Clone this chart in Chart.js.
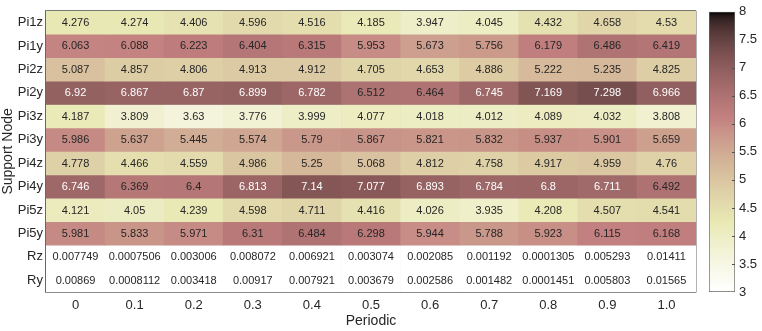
<!DOCTYPE html>
<html lang="en">
<head>
  <meta charset="UTF-8">
  <title>Support Node vs Periodic</title>
  <style>
    body {
      margin: 0;
      background-color: #fff;
    }
    .wrap {
      position: relative;
      width: 762px;
      height: 331px;
    }
    #heatChart {
      position: absolute;
      left: 0;
      top: 0;
    }
    #barChart {
      position: absolute;
      left: 700px;
      top: 0;
    }
  </style>
  <script src="https://cdn.jsdelivr.net/npm/chart.js"></script>
</head>
<body>
<div class="wrap">
  <canvas id="heatChart" width="700" height="331"></canvas>
  <canvas id="barChart" width="62" height="331"></canvas>
</div>

<script>
  // Columns (periodic factor) and rows (support node)
  const periods = ['0', '0.1', '0.2', '0.3', '0.4', '0.5', '0.6', '0.7', '0.8', '0.9', '1.0'];
  const nodes = ['Pi1z', 'Pi1y', 'Pi2z', 'Pi2y', 'Pi3z', 'Pi3y', 'Pi4z', 'Pi4y', 'Pi5z', 'Pi5y', 'Rz', 'Ry'];

  const pi1z = [4.276, 4.274, 4.406, 4.596, 4.516, 4.185, 3.947, 4.045, 4.432, 4.658, 4.53];
  const pi1y = [6.063, 6.088, 6.223, 6.404, 6.315, 5.953, 5.673, 5.756, 6.179, 6.486, 6.419];
  const pi2z = [5.087, 4.857, 4.806, 4.913, 4.912, 4.705, 4.653, 4.886, 5.222, 5.235, 4.825];
  const pi2y = [6.92, 6.867, 6.87, 6.899, 6.782, 6.512, 6.464, 6.745, 7.169, 7.298, 6.966];
  const pi3z = [4.187, 3.809, 3.63, 3.776, 3.999, 4.077, 4.018, 4.012, 4.089, 4.032, 3.808];
  const pi3y = [5.986, 5.637, 5.445, 5.574, 5.79, 5.867, 5.821, 5.832, 5.937, 5.901, 5.659];
  const pi4z = [4.778, 4.466, 4.559, 4.986, 5.25, 5.068, 4.812, 4.758, 4.917, 4.959, 4.76];
  const pi4y = [6.746, 6.369, 6.4, 6.813, 7.14, 7.077, 6.893, 6.784, 6.8, 6.711, 6.492];
  const pi5z = [4.121, 4.05, 4.239, 4.598, 4.711, 4.416, 4.026, 3.935, 4.208, 4.507, 4.541];
  const pi5y = [5.981, 5.833, 5.971, 6.31, 6.484, 6.298, 5.944, 5.788, 5.923, 6.115, 6.168];
  const rz = [0.007749, 0.0007506, 0.003006, 0.008072, 0.006921, 0.003074, 0.002085, 0.001192, 0.0001305, 0.005293, 0.01411];
  const ry = [0.00869, 0.0008112, 0.003418, 0.00917, 0.007921, 0.003679, 0.002586, 0.001482, 0.0001451, 0.005803, 0.01565];

  const rowValues = [pi1z, pi1y, pi2z, pi2y, pi3z, pi3y, pi4z, pi4y, pi5z, pi5y, rz, ry];

  // Colour limits and colour bar ticks
  const cMin = 3;
  const cMax = 8;
  const cStep = 0.5;

  const gridColor = '#676767';
  const textColor = '#262626';
  const fontFamily = "'Liberation Sans', Arial, Helvetica, sans-serif";

  Chart.defaults.font.family = fontFamily;
  Chart.defaults.color = textColor;

  const clamp01 = x => Math.max(0, Math.min(1, x));

  // Reversed "pink" colormap: light at cMin, dark at cMax
  function pinkRGB(t) {
    const hot = [clamp01(t * 8 / 3), clamp01((t - 3 / 8) * 8 / 3), clamp01((t - 3 / 4) * 4)];
    return hot.map(h => Math.round(255 * Math.sqrt((2 * t + h) / 3)));
  }

  function valueRGB(v) {
    return pinkRGB(1 - clamp01((v - cMin) / (cMax - cMin)));
  }

  function rgbString(c) {
    return 'rgb(' + c[0] + ',' + c[1] + ',' + c[2] + ')';
  }

  // White labels on dark cells
  function labelColor(v) {
    const c = valueRGB(v);
    const lum = (0.299 * c[0] + 0.587 * c[1] + 0.114 * c[2]) / 255;
    return lum < 0.5 ? '#ffffff' : textColor;
  }

  function formatValue(v) {
    return parseFloat(v.toPrecision(4)).toString();
  }

  // One floating bar per cell, row i spans [i, i+1] on the hidden y scale
  const datasets = nodes.map((name, i) => ({
    label: name,
    data: periods.map(() => [i, i + 1]),
    backgroundColor: rowValues[i].map(v => rgbString(valueRGB(v))),
    borderWidth: 0,
    barPercentage: 1,
    categoryPercentage: 1,
    grouped: false,
    xAxisID: 'x',
    yAxisID: 'y'
  }));

  // Writes each cell's value in the middle of its bar
  const cellLabels = {
    id: 'cellLabels',
    afterDatasetsDraw(chart) {
      const ctx = chart.ctx;
      ctx.save();
      ctx.font = '11px ' + fontFamily;
      ctx.textAlign = 'center';
      ctx.textBaseline = 'middle';
      chart.data.datasets.forEach((ds, i) => {
        chart.getDatasetMeta(i).data.forEach((bar, j) => {
          const v = rowValues[i][j];
          ctx.fillStyle = labelColor(v);
          ctx.fillText(formatValue(v), bar.x, (bar.y + bar.base) / 2 + 0.5);
        });
      });
      ctx.restore();
    }
  };

  new Chart(document.getElementById('heatChart'), {
    type: 'bar',
    data: { labels: periods, datasets: datasets },
    options: {
      responsive: false,
      animation: false,
      devicePixelRatio: 1,
      layout: { padding: { top: 4, right: 4, left: 0, bottom: 0 } },
      plugins: {
        legend: { display: false },
        tooltip: { enabled: false }
      },
      scales: {
        x: {
          type: 'category',
          offset: true,
          z: 1,
          grid: { offset: true, color: gridColor, lineWidth: 1.5, drawTicks: false },
          border: { color: gridColor, width: 1.5 },
          ticks: { font: { size: 13 }, color: textColor, padding: 6, maxRotation: 0 },
          title: { display: true, text: 'Periodic', font: { size: 14 }, color: textColor, padding: { top: 0, bottom: 1 } },
          afterFit: s => { s.height = 39; }
        },
        y: {
          type: 'linear',
          display: false,
          min: 0,
          max: nodes.length,
          reverse: true
        },
        yl: {
          type: 'category',
          axis: 'y',
          position: 'left',
          labels: nodes,
          offset: true,
          z: 1,
          grid: { offset: true, color: gridColor, lineWidth: 1.5, drawTicks: false },
          border: { color: gridColor, width: 1.5 },
          ticks: { font: { size: 13 }, color: textColor, padding: 3 },
          title: { display: true, text: 'Support Node', font: { size: 14 }, color: textColor, padding: 0 },
          afterFit: s => { s.width = 46; }
        }
      }
    },
    plugins: [cellLabels]
  });

  // Colour bar: a single floating bar from cMin to cMax filled with the colormap
  function barGradient(context) {
    const area = context.chart.chartArea;
    if (!area) return null;
    const g = context.chart.ctx.createLinearGradient(0, area.bottom, 0, area.top);
    const steps = 64;
    for (let k = 0; k <= steps; k++) {
      const v = cMin + (cMax - cMin) * k / steps;
      g.addColorStop(k / steps, rgbString(valueRGB(v)));
    }
    return g;
  }

  // Short tick marks just inside the right edge of the colour bar
  const innerTicks = {
    id: 'innerTicks',
    afterDatasetsDraw(chart) {
      const ctx = chart.ctx;
      const scale = chart.scales.y;
      const right = chart.chartArea.right;
      ctx.save();
      ctx.strokeStyle = '#505050';
      ctx.lineWidth = 1;
      scale.ticks.forEach(t => {
        if (t.value === cMin || t.value === cMax) return;
        const y = Math.round(scale.getPixelForValue(t.value)) + 0.5;
        ctx.beginPath();
        ctx.moveTo(right - 3, y);
        ctx.lineTo(right, y);
        ctx.stroke();
      });
      ctx.restore();
    }
  };

  new Chart(document.getElementById('barChart'), {
    type: 'bar',
    data: {
      labels: [''],
      datasets: [{
        data: [[cMin, cMax]],
        backgroundColor: barGradient,
        borderColor: gridColor,
        borderWidth: 1,
        borderSkipped: false,
        barPercentage: 1,
        categoryPercentage: 1
      }]
    },
    options: {
      responsive: false,
      animation: false,
      devicePixelRatio: 1,
      layout: { padding: { top: 4, left: 9, right: 0, bottom: 39 } },
      plugins: {
        legend: { display: false },
        tooltip: { enabled: false }
      },
      scales: {
        x: { display: false },
        y: {
          position: 'right',
          min: cMin,
          max: cMax,
          grid: { display: false, drawTicks: false },
          border: { display: false },
          ticks: {
            stepSize: cStep,
            font: { size: 13 },
            color: textColor,
            padding: 4,
            callback: v => String(v)
          },
          afterFit: s => { s.width = 27; }
        }
      }
    },
    plugins: [innerTicks]
  });
</script>
</body>
</html>
